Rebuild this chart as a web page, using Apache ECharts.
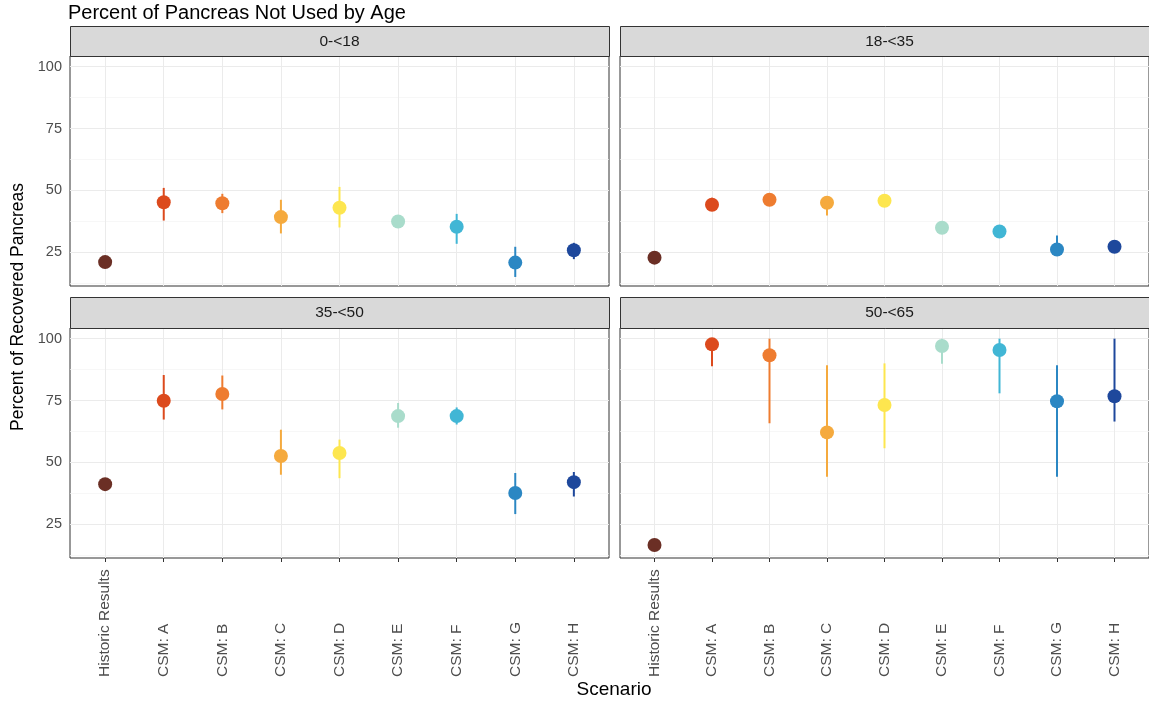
<!DOCTYPE html>
<html><head><meta charset="utf-8">
<script src="https://cdn.jsdelivr.net/npm/echarts@6/dist/echarts.min.js"></script>
<style>html,body{margin:0;padding:0;background:#fff}#c{width:1149px;height:706px}</style>
</head><body><div id="c"></div>
<script>
const panels = ['0-<18', '18-<35', '35-<50', '50-<65'];
const categories = ['Historic Results', 'CSM: A', 'CSM: B', 'CSM: C', 'CSM: D', 'CSM: E', 'CSM: F', 'CSM: G', 'CSM: H'];
const colors = ['#6b2f25', '#dc4a1d', '#ee7c30', '#f5aa3e', '#fde64f', '#a9dccb', '#41b6d5', '#2b87c3', '#1e489c'];
const yTicks = [25, 50, 75, 100];
const yMinor = [12.5, 37.5, 62.5, 87.5];

const mean0 = [21.0, 45.2, 44.8, 39.2, 43.0, 37.4, 35.3, 20.8, 25.8];
const low0  = [20.0, 37.8, 40.8, 32.6, 35.0, 36.5, 28.4, 15.0, 22.2];
const high0 = [22.0, 51.0, 48.6, 46.2, 51.4, 38.3, 40.5, 27.2, 28.8];

const mean1 = [22.8, 44.2, 46.2, 45.0, 45.8, 34.9, 33.4, 26.1, 27.2];
const low1  = [21.8, 42.0, 44.0, 39.8, 43.8, 33.5, 31.8, 24.0, 25.8];
const high1 = [23.8, 47.0, 48.2, 47.5, 47.5, 36.2, 35.0, 31.8, 28.8];

const mean2 = [41.2, 74.9, 77.6, 52.6, 53.8, 68.7, 68.7, 37.6, 42.0];
const low2  = [40.2, 67.3, 71.4, 45.0, 43.6, 64.0, 65.3, 29.1, 36.2];
const high2 = [42.2, 85.3, 85.1, 63.2, 59.2, 74.0, 72.2, 45.7, 46.1];

const mean3 = [16.6, 97.7, 93.3, 62.1, 73.2, 97.0, 95.4, 74.7, 76.7];
const low3  = [15.6, 88.8, 65.8, 44.2, 55.7, 89.9, 77.9, 44.2, 66.5];
const high3 = [17.6, 100, 100, 89.2, 90.0, 100, 100, 89.2, 100];

const means = [mean0, mean1, mean2, mean3];
const lows = [low0, low1, low2, low3];
const highs = [high0, high1, high2, high3];

const FONT = '"Liberation Sans", Arial, sans-serif';
const PW = 539, PH = 230;
const pos = [{ l: 70, t: 56 }, { l: 620, t: 56 }, { l: 70, t: 328 }, { l: 620, t: 328 }];
const stripH = [30, 31];
const xIdx = categories.map((c, j) => j);

const grid = [], xAxis = [], yAxis = [], series = [], graphic = [];
panels.forEach((p, i) => {
  const g = pos[i];
  grid.push({ left: g.l, top: g.t, width: PW, height: PH, show: true, borderColor: '#333333', borderWidth: 1, backgroundColor: 'transparent', containLabel: false });
  const bottom = i >= 2, leftCol = i % 2 === 0;
  xAxis.push({
    gridIndex: i, type: 'value', min: -0.6, max: 8.6,
    splitLine: { show: false }, axisLine: { show: false },
    axisTick: { show: bottom, customValues: xIdx, length: 4, lineStyle: { color: '#333333' } },
    axisLabel: { show: bottom, customValues: xIdx, rotate: 90, align: 'left', verticalAlign: 'middle', formatter: v => categories[v], fontSize: 15.5, color: '#4d4d4d', margin: 119, fontFamily: FONT }
  });
  yAxis.push({
    gridIndex: i, type: 'value', min: 11.35, max: 104.3,
    splitLine: { show: false }, axisLine: { show: false },
    axisTick: { show: leftCol, customValues: yTicks, length: 5, lineStyle: { color: '#333333' } },
    axisLabel: { show: leftCol, customValues: yTicks, fontSize: 14.5, color: '#4d4d4d', margin: 8, fontFamily: FONT }
  });
  const gl = [];
  yTicks.forEach(v => gl.push({ yAxis: v, lineStyle: { color: '#ebebeb', width: 1, type: 'solid' } }));
  yMinor.forEach(v => gl.push({ yAxis: v, lineStyle: { color: '#f4f4f4', width: 0.7, type: 'solid' } }));
  xIdx.forEach(v => gl.push({ xAxis: v, lineStyle: { color: '#ebebeb', width: 1, type: 'solid' } }));
  series.push({
    type: 'custom', xAxisIndex: i, yAxisIndex: i, z: 2, clip: true,
    data: categories.map((c, j) => [j, lows[i][j], highs[i][j]]),
    encode: { x: 0, y: [1, 2] },
    renderItem: (params, api) => {
      const x = api.value(0);
      const a = api.coord([x, api.value(1)]);
      const b = api.coord([x, api.value(2)]);
      return { type: 'line', shape: { x1: a[0], y1: a[1], x2: b[0], y2: b[1] }, style: { stroke: colors[params.dataIndex], lineWidth: 2 } };
    },
    markLine: { silent: true, z: 1, symbol: ['none', 'none'], label: { show: false }, animation: false, emphasis: { disabled: true }, data: gl },
    animation: false
  });
  series.push({
    type: 'scatter', xAxisIndex: i, yAxisIndex: i, z: 3, symbolSize: 14, animation: false,
    data: means[i].map((v, j) => ({ value: [j, v], itemStyle: { color: colors[j], opacity: 1 } }))
  });
  const sh = stripH[i >= 2 ? 1 : 0];
  graphic.push({ type: 'rect', shape: { x: g.l + 0.5, y: g.t - sh + 0.5, width: PW, height: sh }, style: { fill: '#d9d9d9', stroke: '#333333', lineWidth: 1 }, z: 10 });
  graphic.push({ type: 'text', x: g.l + PW / 2, y: g.t - sh / 2 + 0.5, style: { text: p, textAlign: 'center', textVerticalAlign: 'middle', fontSize: 15.5, fill: '#1a1a1a', fontFamily: FONT }, z: 11 });
});
graphic.push({ type: 'text', x: 68, y: 13, style: { text: 'Percent of Pancreas Not Used by Age', textAlign: 'left', textVerticalAlign: 'middle', fontSize: 20, fill: '#000', fontFamily: FONT } });
graphic.push({ type: 'text', x: 18, y: 307, rotation: Math.PI / 2, style: { text: 'Percent of Recovered Pancreas', textAlign: 'center', textVerticalAlign: 'middle', fontSize: 17.5, fill: '#000', fontFamily: FONT } });
graphic.push({ type: 'text', x: 614, y: 690, style: { text: 'Scenario', textAlign: 'center', textVerticalAlign: 'middle', fontSize: 19, fill: '#000', fontFamily: FONT } });

const chart = echarts.init(document.getElementById('c'), null, { renderer: 'canvas' });
chart.setOption({ animation: false, backgroundColor: '#ffffff', grid, xAxis, yAxis, series, graphic });
</script></body></html>
